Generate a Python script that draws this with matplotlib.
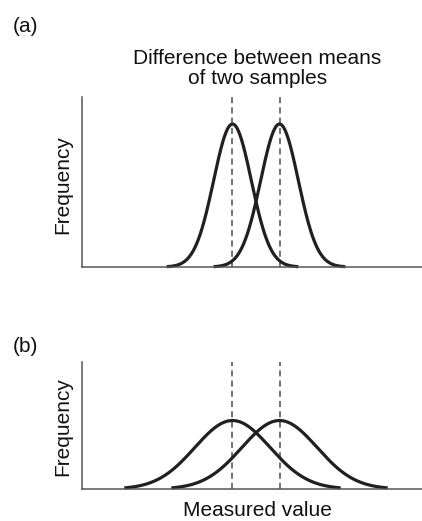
import numpy as np
import matplotlib
matplotlib.use("Agg")
import matplotlib.pyplot as plt

plt.rcParams['font.family'] = ['Liberation Sans', 'DejaVu Sans']

# Two normal distributions per panel: same means, different spreads
means = [50, 60]
sd_a = 4.0
sd_b = 8.0
tail_a = 14.0   # half-width of the drawn curve in panel (a)
tail_b = 23.0   # half-width of the drawn curve in panel (b)
x_range = (18.0, 90.3)

panel_labels = ["(a)", "(b)"]
title_lines = ["Difference between means", "of two samples"]
y_label = "Frequency"
x_label = "Measured value"

W, H = 422, 521
fig = plt.figure(figsize=(W / 100, H / 100), dpi=100)


def px_axes(left, top, right, bottom):
    return fig.add_axes([left / W, 1 - bottom / H, (right - left) / W, (bottom - top) / H])


def normal_pdf(x, mu, sd):
    return np.exp(-0.5 * ((x - mu) / sd) ** 2) / (sd * np.sqrt(2 * np.pi))


def draw_panel(ax, sd, tail, ytop):
    ax.set_xlim(*x_range)
    ax.set_ylim(0, ytop)
    for mu in means:
        ax.axvline(mu, color="#4d4d4d", lw=1.1, dashes=(4.0, 2.7), zorder=1)
    for mu in means:
        xs = np.linspace(mu - tail, mu + tail, 400)
        ax.plot(xs, normal_pdf(xs, mu, sd), color="#231f20", lw=2.3,
                solid_capstyle="butt", zorder=2, clip_on=False)
    for side in ("top", "right"):
        ax.spines[side].set_visible(False)
    for side in ("left", "bottom"):
        ax.spines[side].set_color("#555555")
        ax.spines[side].set_linewidth(1.1)
    ax.set_xticks([])
    ax.set_yticks([])


ax_a = px_axes(82, 97, 422, 267)
draw_panel(ax_a, sd_a, tail_a, 0.1186)

ax_b = px_axes(82, 362, 422, 489)
draw_panel(ax_b, sd_b, tail_b, 0.0925)


def ftext(x, y, s, **kw):
    fig.text(x / W, 1 - y / H, s, fontsize=15, color="#111111", **kw)


ftext(13, 27, panel_labels[0], ha="left", va="center")
ftext(13, 347, panel_labels[1], ha="left", va="center")
ftext(257.5, 64, title_lines[0], ha="center", va="baseline")
ftext(257.5, 84, title_lines[1], ha="center", va="baseline")
ftext(63, 185, y_label, ha="center", va="center", rotation=90)
ftext(63, 426.5, y_label, ha="center", va="center", rotation=90)
ftext(257.5, 516, x_label, ha="center", va="baseline")

fig.savefig("out.png", dpi=100)
